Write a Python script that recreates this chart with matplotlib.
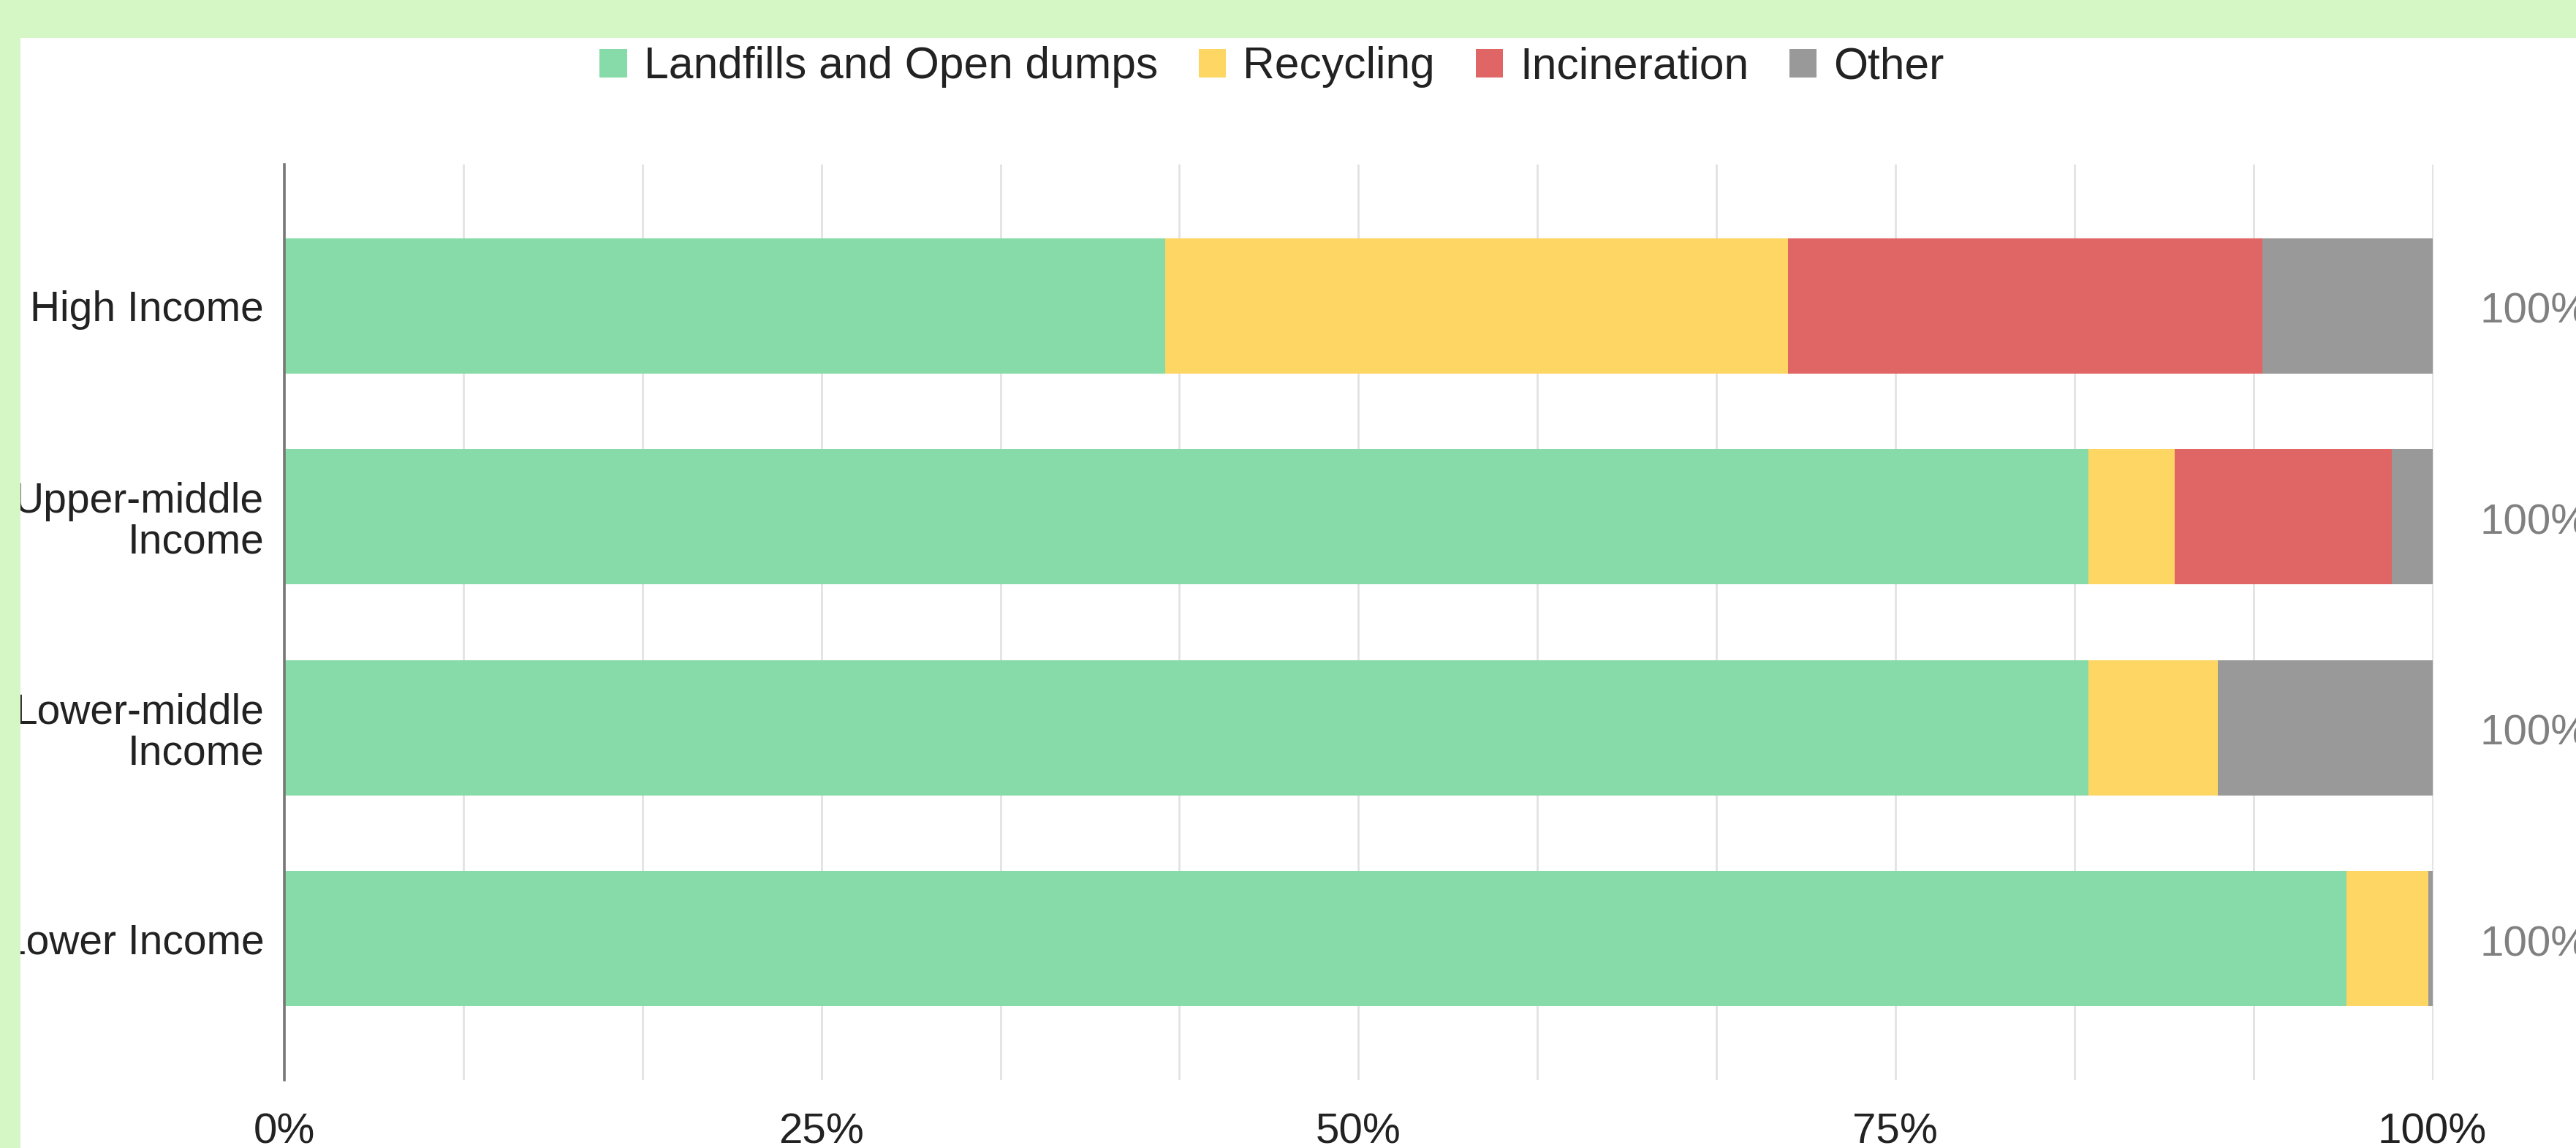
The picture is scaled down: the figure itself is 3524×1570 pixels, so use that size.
import numpy as np
import matplotlib
matplotlib.use("Agg")
import matplotlib.pyplot as plt
from matplotlib.patches import Patch, Rectangle

plt.rcParams["font.family"] = ["Liberation Sans", "DejaVu Sans"]

# --- data (percent of waste by treatment) ---
groups = ["High Income", "Upper-middle\nIncome", "Lower-middle\nIncome", "Lower Income"]
series = ["Landfills and Open dumps", "Recycling", "Incineration", "Other"]
landfill = [41.0, 84.0, 84.0, 96.0]
recycling = [29.0, 4.0, 6.0, 3.8]
incineration = [22.1, 10.1, 0.0, 0.0]
other = [7.9, 1.9, 10.0, 0.2]
colors = ["#87dba9", "#fdd663", "#e06666", "#999999"]
xtick_vals = [0, 25, 50, 75, 100]

W, H, DPI = 3524, 1570, 200
fig = plt.figure(figsize=(W / DPI, H / DPI), dpi=DPI, facecolor="white")
ax = fig.add_axes([389 / W, 1 - 1477 / H, (3329 - 389) / W, (1477 - 225) / H])

y = np.arange(len(groups))
left = np.zeros(len(groups))
for vals, col in zip([landfill, recycling, incineration, other], colors):
    ax.barh(y, vals, left=left, height=0.64, color=col, linewidth=0, zorder=3)
    left += np.array(vals)

# totals on the right
for i, tot in enumerate(left):
    ax.annotate(f"{tot:.0f}%", xy=(tot, i), xytext=(23.5, -3), textcoords="offset points",
                ha="left", va="center", fontsize=21, color="#808080", annotation_clip=False)

ax.set_ylim(3.67, -0.67)
ax.set_xlim(0, 100.05)
ax.set_yticks(y)
ax.set_yticklabels(groups, fontsize=20.5, color="#222222", linespacing=1.05)
ax.set_xticks(xtick_vals)
ax.set_xticklabels([f"{v}%" for v in xtick_vals], fontsize=21, color="#222222")
ax.set_xticks(np.linspace(0, 100, 13), minor=True)
ax.tick_params(axis="both", which="both", length=0)
ax.tick_params(axis="x", pad=16)
ax.tick_params(axis="y", pad=10)
ax.grid(axis="x", which="both", color="#e2e2e2", linewidth=1.0, zorder=0)

for s in ["top", "right", "bottom"]:
    ax.spines[s].set_visible(False)
ax.spines["left"].set_color("#777777")
ax.spines["left"].set_linewidth(1.3)
ax.spines["left"].set_zorder(4)

# legend
handles = [Patch(facecolor=c, edgecolor="none", label=s) for s, c in zip(series, colors)]
fig.legend(handles=handles, loc="center", bbox_to_anchor=(1740 / W, 1 - 92 / H), ncol=4,
           frameon=False, fontsize=21.8, handlelength=0.62, handleheight=0.62,
           handletextpad=0.38, columnspacing=0.92, borderpad=0, labelcolor="#222222")

# light green frame along the top and left edges
band = "#d4f7c5"
fig.patches.append(Rectangle((0, 1 - 52 / H), 1, 52 / H, transform=fig.transFigure,
                             facecolor=band, edgecolor="none", zorder=10))
fig.patches.append(Rectangle((0, 0), 28 / W, 1, transform=fig.transFigure,
                             facecolor=band, edgecolor="none", zorder=10))

fig.savefig("out.png", dpi=DPI, facecolor="white")
